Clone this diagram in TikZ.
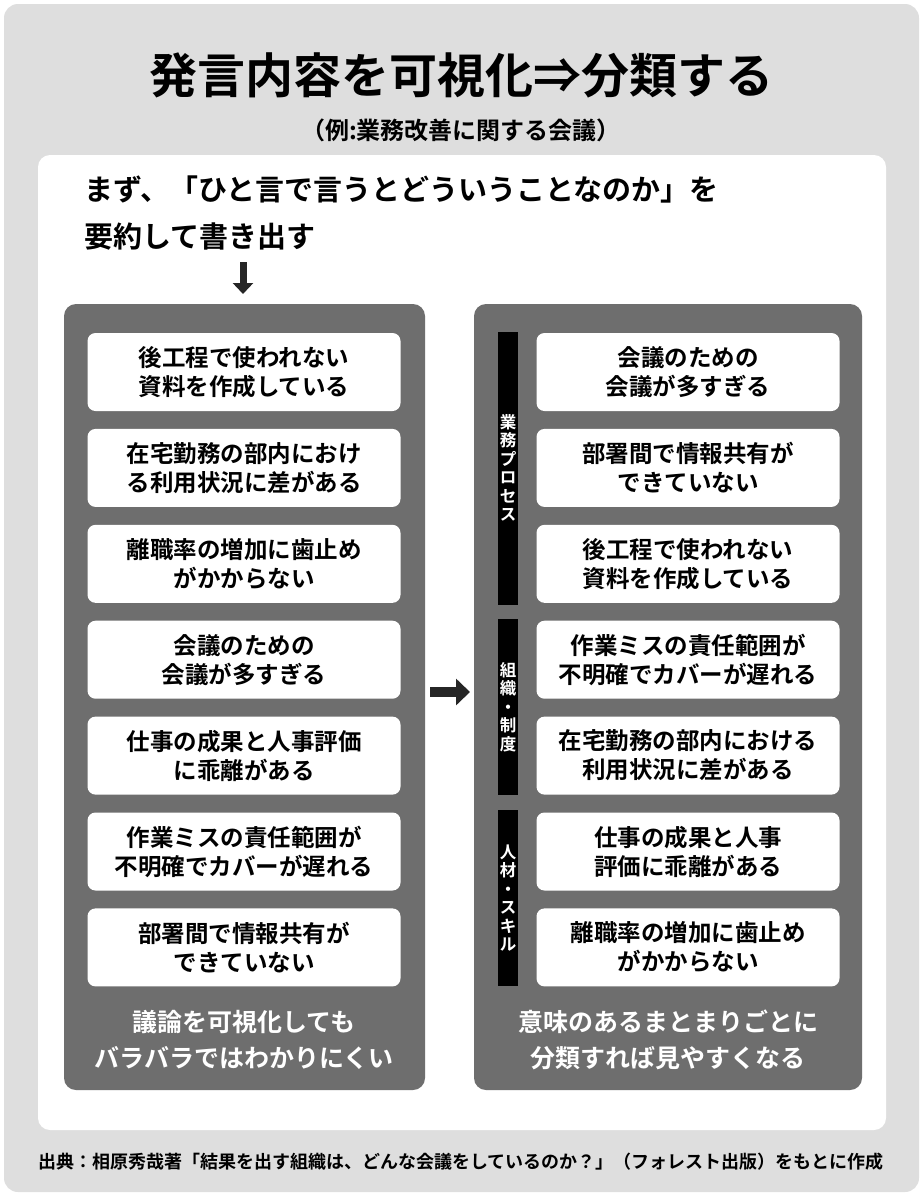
\documentclass[tikz,border=0pt]{standalone}
\usepackage{fontspec}
\setmainfont{Noto Sans CJK JP}[BoldFont={* Bold}]
\usetikzlibrary{positioning,arrows.meta}
\definecolor{outerbg}{RGB}{222,222,222}
\definecolor{panel}{RGB}{110,110,110}

\begin{document}
\begin{tikzpicture}[x=1pt,y=-1pt,
    node distance=17.5pt,
    card/.style={rectangle, fill=white, rounded corners=8pt, minimum width=313pt, minimum height=78pt, align=center, font=\fontsize{23.5}{29}\selectfont\bfseries, inner sep=0pt},
    rcard/.style={card, minimum width=303pt},
    panelbox/.style={fill=panel, rounded corners=12pt},
    catbar/.style={fill=black, minimum width=20pt, inner sep=0pt, text=white, align=center, font=\fontsize{16.5}{18.5}\selectfont\bfseries},
    bigarrow/.style={-{Triangle[length=14pt,width=26pt]}, line width=10pt, draw=black!85}
]
    \useasboundingbox (0,0) rectangle (923,1200);
    % backgrounds
    \fill[outerbg, rounded corners=14pt] (4,4) rectangle (919,1192);
    \fill[white, rounded corners=12pt] (38,155) rectangle (886,1130);
    \fill[panelbox] (64,304) rectangle (425,1090);
    \fill[panelbox] (474,304) rectangle (862,1090);

    % headings
    \node[font=\fontsize{48}{52}\selectfont\bfseries] (title) at (461,75) {発言内容を可視化⇒分類する};
    \node[font=\fontsize{24}{28}\selectfont\bfseries] (sub) at (461,130) {（例:業務改善に関する会議）};
    \node[anchor=west, align=left, font=\fontsize{29}{47}\selectfont\bfseries, inner sep=0pt] (intro) at (84,213)
        {まず、「ひと言で言うとどういうことなのか」を\\要約して書き出す};

    % left column
    \node[card] (l1) at (244,372) {後工程で使われない\\資料を作成している};
    \node[card, below=of l1] (l2) {在宅勤務の部内におけ\\る利用状況に差がある};
    \node[card, below=of l2] (l3) {離職率の増加に歯止め\\がかからない};
    \node[card, below=of l3] (l4) {会議のための\\会議が多すぎる};
    \node[card, below=of l4] (l5) {仕事の成果と人事評価\\に乖離がある};
    \node[card, below=of l5] (l6) {作業ミスの責任範囲が\\不明確でカバーが遅れる};
    \node[card, below=of l6] (l7) {部署間で情報共有が\\できていない};
    \node[text=white, align=center, font=\fontsize{25}{36}\selectfont\bfseries] (lnote) at (244,1040)
        {議論を可視化しても\\バラバラではわかりにくい};

    % right column
    \node[rcard] (r1) at (688,372) {会議のための\\会議が多すぎる};
    \node[rcard, below=of r1] (r2) {部署間で情報共有が\\できていない};
    \node[rcard, below=of r2] (r3) {後工程で使われない\\資料を作成している};
    \node[rcard, below=of r3] (r4) {作業ミスの責任範囲が\\不明確でカバーが遅れる};
    \node[rcard, below=of r4] (r5) {在宅勤務の部内における\\利用状況に差がある};
    \node[rcard, below=of r5] (r6) {仕事の成果と人事\\評価に乖離がある};
    \node[rcard, below=of r6] (r7) {離職率の増加に歯止め\\がかからない};
    \node[text=white, align=center, font=\fontsize{25}{36}\selectfont\bfseries] (rnote) at (668,1040)
        {意味のあるまとまりごとに\\分類すれば見やすくなる};

    % category bars
    \node[catbar, minimum height=273pt] (cat1) at (508,468) {業\\務\\プ\\ロ\\セ\\ス};
    \node[catbar, minimum height=176pt] (cat2) at (508,707) {組\\織\\・\\制\\度};
    \node[catbar, minimum height=176pt] (cat3) at (508,898) {人\\材\\・\\ス\\キ\\ル};

    % arrows
    \coordinate (downtop) at (243,262);
    \coordinate (downend) at (243,294);
    \draw[bigarrow, line width=7pt, -{Triangle[length=11pt,width=20pt]}] (downtop) -- (downend);
    \coordinate (rightstart) at (430,692);
    \coordinate (rightend) at (470,692);
    \draw[bigarrow] (rightstart) -- (rightend);

    % source
    \node[font=\fontsize{18}{20}\selectfont\bfseries] (src) at (461,1162)
        {出典：相原秀哉著「結果を出す組織は、どんな会議をしているのか？」（フォレスト出版）をもとに作成};
\end{tikzpicture}
\end{document}
